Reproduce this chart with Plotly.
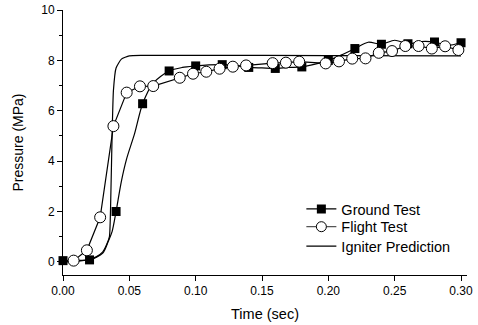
import plotly.graph_objects as go

# Ground test: markers
ground_t = [0.0, 0.02, 0.04, 0.06, 0.08, 0.10, 0.12, 0.14, 0.16, 0.18, 0.20, 0.22, 0.24, 0.26, 0.28, 0.30]
ground_p = [0.05, 0.08, 2.0, 6.28, 7.58, 7.78, 7.83, 7.72, 7.68, 7.74, 8.0, 8.47, 8.64, 8.66, 8.73, 8.70]

# Ground test: recorded curve
ground_curve_t = [0.0, 0.01, 0.02, 0.03, 0.034, 0.037, 0.04, 0.044, 0.048, 0.054, 0.06, 0.068, 0.08,
                  0.09, 0.10, 0.11, 0.12, 0.13, 0.14, 0.15, 0.16, 0.17, 0.18, 0.19, 0.20, 0.21, 0.22,
                  0.23, 0.24, 0.25, 0.26, 0.27, 0.28, 0.29, 0.30]
ground_curve_p = [0.05, 0.06, 0.08, 0.35, 0.8, 1.2, 2.0, 3.2, 4.1, 5.1, 6.28, 7.1, 7.58,
                  7.72, 7.78, 7.82, 7.83, 7.8, 7.72, 7.7, 7.68, 7.72, 7.74, 7.85, 8.0, 8.22, 8.47,
                  8.72, 8.64, 8.8, 8.66, 8.75, 8.73, 8.6, 8.70]

# Flight test
flight_t = [0.008, 0.018, 0.028, 0.038, 0.048, 0.058, 0.068, 0.088, 0.098, 0.108, 0.118, 0.128, 0.138,
            0.158, 0.168, 0.178, 0.198, 0.208, 0.218, 0.228, 0.238, 0.248, 0.258, 0.268, 0.278, 0.288, 0.298]
flight_p = [0.05, 0.46, 1.77, 5.39, 6.72, 6.97, 6.98, 7.31, 7.47, 7.55, 7.67, 7.75, 7.8,
            7.89, 7.91, 7.95, 7.88, 7.96, 8.07, 8.08, 8.3, 8.37, 8.57, 8.57, 8.47, 8.56, 8.41]

# Igniter prediction
igniter_t = [0.0, 0.01, 0.02, 0.025, 0.03, 0.033, 0.035, 0.036, 0.037, 0.038, 0.04, 0.044, 0.05, 0.06,
             0.10, 0.20, 0.30]
igniter_p = [0.0, 0.02, 0.1, 0.2, 0.4, 0.7, 1.0, 2.5, 5.0, 6.8, 7.7, 8.05, 8.18, 8.2, 8.2, 8.19, 8.18]

y_ticks = [0, 2, 4, 6, 8, 10]
y_minor_ticks = [1, 3, 5, 7, 9]

fig = go.Figure()

fig.add_trace(go.Scatter(x=igniter_t, y=igniter_p, mode="lines", showlegend=False,
                         line=dict(color="black", width=1.2, shape="spline", smoothing=0.5)))
fig.add_trace(go.Scatter(x=ground_curve_t, y=ground_curve_p, mode="lines", showlegend=False,
                         line=dict(color="black", width=1.2, shape="spline", smoothing=0.8)))
fig.add_trace(go.Scatter(x=ground_t, y=ground_p, mode="markers", showlegend=False, cliponaxis=False,
                         marker=dict(symbol="square", size=9, color="black")))
fig.add_trace(go.Scatter(x=flight_t, y=flight_p, mode="lines+markers", showlegend=False, cliponaxis=False,
                         line=dict(color="black", width=1.2),
                         marker=dict(symbol="circle", size=11, color="white",
                                     line=dict(color="black", width=1))))

# legend entries (one legend each, so the rows can sit as close as in the reference)
fig.add_trace(go.Scatter(x=[None], y=[None], mode="lines+markers", name="Ground Test",
                         legend="legend",
                         line=dict(color="black", width=1.2),
                         marker=dict(symbol="square", size=9, color="black")))
fig.add_trace(go.Scatter(x=[None], y=[None], mode="lines+markers", name="Flight Test",
                         legend="legend2",
                         line=dict(color="#555555", width=1.2),
                         marker=dict(symbol="circle", size=10, color="white",
                                     line=dict(color="black", width=1))))
fig.add_trace(go.Scatter(x=[None], y=[None], mode="lines", name="Igniter Prediction",
                         legend="legend3",
                         line=dict(color="black", width=1.2)))

font_family = "Liberation Sans, Arial, sans-serif"
legend_common = dict(x=0.59, xanchor="left", yanchor="middle", bgcolor="rgba(0,0,0,0)",
                     font=dict(size=14.5, family=font_family, color="black"))

fig.update_layout(
    width=478, height=325,
    margin=dict(l=63, r=11, t=10, b=50),
    paper_bgcolor="white", plot_bgcolor="white",
    font=dict(family=font_family, size=12, color="black"),
    showlegend=True,
    legend=dict(y=0.249, **legend_common),
    legend2=dict(y=0.182, **legend_common),
    legend3=dict(y=0.109, **legend_common),
    xaxis=dict(range=[0, 0.3045], tickmode="linear", tick0=0, dtick=0.05, tickformat=".2f",
               automargin=False,
               showgrid=False, zeroline=False, showline=True, linecolor="black", linewidth=1,
               ticks="outside", ticklen=5, tickcolor="black", tickwidth=1,
               title=dict(text="Time (sec)", font=dict(size=14.5), standoff=11)),
    yaxis=dict(range=[-0.52, 10], tickvals=y_ticks, automargin=False,
               showgrid=False, zeroline=False, showline=True, linecolor="black", linewidth=1,
               ticks="outside", ticklen=5, tickcolor="black", tickwidth=1,
               minor=dict(tickvals=y_minor_ticks, ticks="outside", ticklen=3,
                          tickcolor="black", tickwidth=1, showgrid=False),
               title=dict(text="Pressure (MPa)", font=dict(size=14), standoff=14)),
)

fig.write_html("out.html", config={"displayModeBar": False},
               post_script="document.body.style.margin='0';document.body.style.padding='0';")
